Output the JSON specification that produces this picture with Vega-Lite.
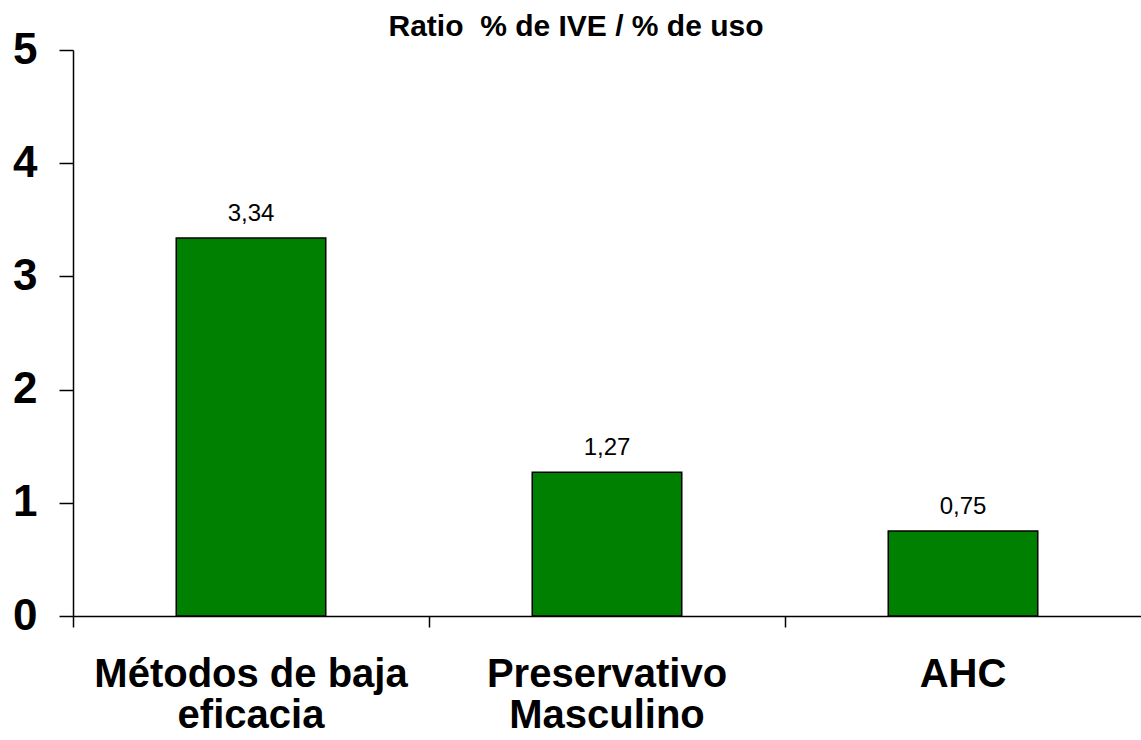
{
  "$schema": "https://vega.github.io/schema/vega-lite/v6.json",
  "width": 1068,
  "height": 566,
  "autosize": "none",
  "padding": {"left": 73, "top": 50, "right": 0, "bottom": 124},
  "background": "white",
  "config": {
    "view": {"stroke": null},
    "font": "Liberation Sans",
    "locale": {"number": {"decimal": ",", "thousands": ".", "grouping": [3], "currency": ["", " €"]}}
  },
  "title": {
    "text": "Ratio\u00a0 % de IVE / % de uso",
    "font": "Liberation Sans",
    "fontSize": 30,
    "fontWeight": "bold",
    "color": "black",
    "anchor": "middle",
    "baseline": "alphabetic",
    "offset": 13,
    "dx": -31,
    "dy": 51
  },
  "data": {
    "values": [
      {"metodo": "Métodos de baja eficacia", "ratio": 3.34},
      {"metodo": "Preservativo Masculino", "ratio": 1.27},
      {"metodo": "AHC", "ratio": 0.75}
    ]
  },
  "encoding": {
    "x": {
      "field": "metodo",
      "type": "nominal",
      "sort": null,
      "scale": {"paddingInner": 0, "paddingOuter": 0},
      "axis": {
        "title": null,
        "labelAngle": 0,
        "labelFont": "Liberation Sans",
        "labelFontSize": 40,
        "labelFontWeight": "bold",
        "labelColor": "black",
        "labelPadding": 27,
        "labelLineHeight": 41,
        "labelLimit": 600,
        "labelOverlap": false,
        "labelExpr": "datum.label == 'AHC' ? 'AHC' : datum.label == 'Preservativo Masculino' ? ['Preservativo', 'Masculino'] : ['Métodos de baja', 'eficacia']",
        "bandPosition": 0,
        "tickSize": 11,
        "tickColor": "black",
        "tickWidth": 1.5,
        "domainColor": "black",
        "domainWidth": 1.5,
        "grid": false
      }
    },
    "y": {
      "field": "ratio",
      "type": "quantitative",
      "scale": {"domain": [0, 5], "nice": false},
      "axis": {
        "title": null,
        "values": [0, 1, 2, 3, 4, 5],
        "format": "d",
        "labelFont": "Liberation Sans",
        "labelFontSize": 44,
        "labelFontWeight": "bold",
        "labelColor": "black",
        "labelPadding": 22,
        "tickSize": 14,
        "tickColor": "black",
        "tickWidth": 1.5,
        "domainColor": "black",
        "domainWidth": 1.5,
        "grid": false
      }
    }
  },
  "layer": [
    {
      "mark": {"type": "bar", "color": "#008000", "stroke": "black", "strokeWidth": 1.5, "width": {"band": 0.42}}
    },
    {
      "mark": {"type": "text", "baseline": "alphabetic", "dy": -17, "fontSize": 24, "font": "Liberation Sans", "color": "black"},
      "encoding": {"text": {"field": "ratio", "type": "quantitative", "format": ".2f"}}
    }
  ]
}
